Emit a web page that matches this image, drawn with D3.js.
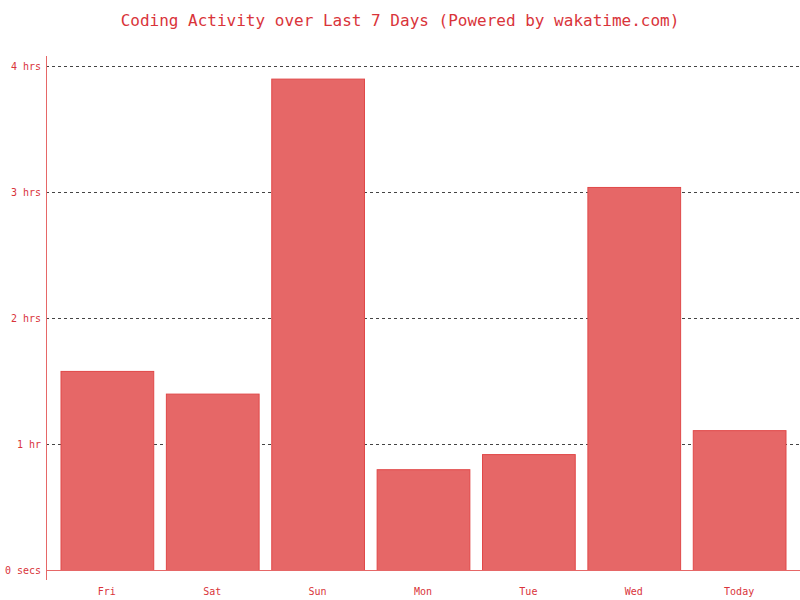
<!DOCTYPE html>
<html>
<head>
<meta charset="utf-8">
<script src="https://d3js.org/d3.v7.min.js"></script>
<style>
  body { margin: 0; background: #fff; }
  text { font-family: 'DejaVu Sans Mono', monospace; fill: #d9343a; }
</style>
</head>
<body>
<svg id="chart" width="800" height="600"></svg>
<script>
// Chart data
const days = ['Fri', 'Sat', 'Sun', 'Mon', 'Tue', 'Wed', 'Today'];
const hours = [1.58, 1.40, 3.90, 0.80, 0.92, 3.04, 1.11];
const tickValues = [0, 1, 2, 3, 4];
const tickLabels = ['0 secs', '1 hr', '2 hrs', '3 hrs', '4 hrs'];

const svg = d3.select('#chart');
const plotLeft = 46, plotRight = 800, plotTop = 66, plotBottom = 570;

const x = d3.scaleBand().domain(days).range([60.5, 785.5]).paddingInner(0.12).paddingOuter(0.0);
const y = d3.scaleLinear().domain([0, 4]).range([plotBottom, plotTop]);

// Title
svg.append('text')
    .attr('x', 400).attr('y', 26)
    .attr('text-anchor', 'middle')
    .style('font-size', '16px')
    .text('Coding Activity over Last 7 Days (Powered by wakatime.com)');

// Gridlines
svg.append('g').selectAll('line')
    .data(tickValues.filter(d => d > 0))
    .join('line')
    .attr('x1', plotLeft).attr('x2', plotRight)
    .attr('y1', d => y(d) + 0.5).attr('y2', d => y(d) + 0.5)
    .attr('stroke', '#444')
    .attr('stroke-dasharray', '3,3');

// Bars
svg.append('g').selectAll('rect')
    .data(days)
    .join('rect')
    .attr('x', d => x(d) + 0.5)
    .attr('y', (d, i) => y(hours[i]) + 0.5)
    .attr('width', x.bandwidth())
    .attr('height', (d, i) => plotBottom - y(hours[i]))
    .attr('fill', '#e66767')
    .attr('stroke', '#e04848')
    .attr('stroke-width', 1);

// Axis lines
svg.append('line')
    .attr('x1', plotLeft + 0.5).attr('x2', plotLeft + 0.5)
    .attr('y1', 56).attr('y2', 580)
    .attr('stroke', '#e66767');
svg.append('line')
    .attr('x1', plotLeft).attr('x2', plotRight)
    .attr('y1', plotBottom + 0.5).attr('y2', plotBottom + 0.5)
    .attr('stroke', '#e66767');

// Y tick labels
svg.append('g').selectAll('text')
    .data(tickValues)
    .join('text')
    .attr('x', 41)
    .attr('y', d => y(d) + 4)
    .attr('text-anchor', 'end')
    .style('font-size', '10px')
    .text((d, i) => tickLabels[i]);

// X tick labels
svg.append('g').selectAll('text')
    .data(days)
    .join('text')
    .attr('x', d => x(d) + x.bandwidth() / 2)
    .attr('y', 595)
    .attr('text-anchor', 'middle')
    .style('font-size', '10px')
    .text(d => d);
</script>
</body>
</html>
